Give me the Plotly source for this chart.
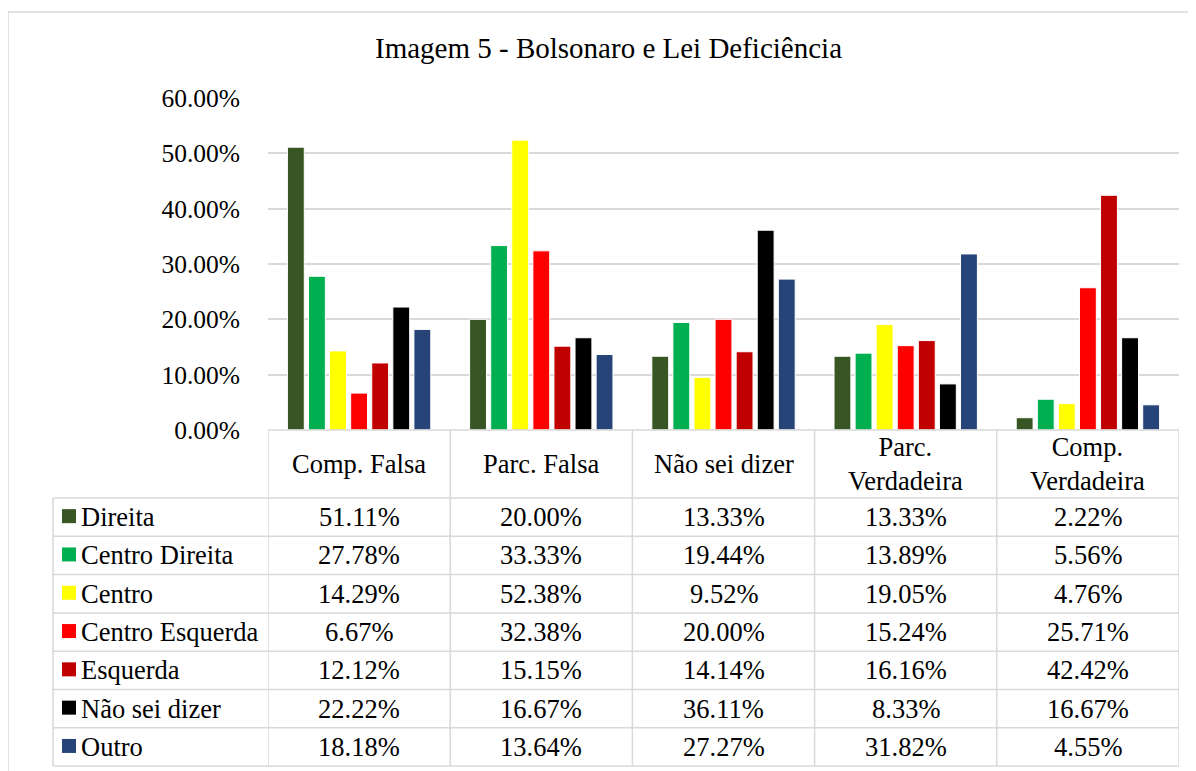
import plotly.graph_objects as go

categories = ["Comp. Falsa", "Parc. Falsa", "Não sei dizer", "Parc. Verdadeira", "Comp. Verdadeira"]
header_labels = ["Comp. Falsa", "Parc. Falsa", "Não sei dizer", "Parc.<br>Verdadeira", "Comp.<br>Verdadeira"]
series_names = ["Direita", "Centro Direita", "Centro", "Centro Esquerda", "Esquerda", "Não sei dizer", "Outro"]
direita = [51.11, 20.00, 13.33, 13.33, 2.22]
centro_direita = [27.78, 33.33, 19.44, 13.89, 5.56]
centro = [14.29, 52.38, 9.52, 19.05, 4.76]
centro_esquerda = [6.67, 32.38, 20.00, 15.24, 25.71]
esquerda = [12.12, 15.15, 14.14, 16.16, 42.42]
nao_sei = [22.22, 16.67, 36.11, 8.33, 16.67]
outro = [18.18, 13.64, 27.27, 31.82, 4.55]
series_values = [direita, centro_direita, centro, centro_esquerda, esquerda, nao_sei, outro]
colors = ["#375623", "#00b050", "#ffff00", "#ff0000", "#c00000", "#000000", "#264478"]
y_ticks = [0, 10, 20, 30, 40, 50, 60]
y_tick_text = [f"{t:.2f}%" for t in y_ticks]

OX, OY = 8, 8  # page body margin
W, H = 1196 - OX, 771 - OY  # figure fits exactly inside the window
FONT = "Liberation Serif, Times New Roman, serif"
GRID = "#d9d9d9"
FS = 26.5


def X(px):
    return (px - OX) / W


def Y(py):
    return 1 - (py - OY) / H


fig = go.Figure()
for name, vals, col in zip(series_names, series_values, colors):
    fig.add_trace(go.Bar(x=categories, y=vals, name=name,
                         marker=dict(color=col, line=dict(color="white", width=1))))

plot_left, plot_right = 268, 1179
plot_top, plot_bottom = 98, 430
header_bottom = 498
row_h = 38.3
table_left = 53

shapes = []
annotations = []

# outer chart border: only top and left edges are visible in the frame
shapes.append(dict(type="line", xref="paper", yref="paper", x0=X(8), x1=1.0, y0=Y(12), y1=Y(12),
                   line=dict(color=GRID, width=1.5), layer="below"))
shapes.append(dict(type="line", xref="paper", yref="paper", x0=X(8), x1=X(8), y0=Y(12), y1=0.0,
                   line=dict(color=GRID, width=1.5), layer="below"))

# table horizontal lines
shapes.append(dict(type="line", xref="x", yref="paper", x0=-0.5, x1=len(categories) - 0.5,
                   y0=Y(plot_bottom), y1=Y(plot_bottom), line=dict(color=GRID, width=1.5)))
for i in range(len(series_names) + 1):
    yy = header_bottom + i * row_h
    shapes.append(dict(type="line", xref="paper", yref="paper", x0=X(table_left), x1=X(plot_right),
                       y0=Y(yy), y1=Y(yy), line=dict(color=GRID, width=1.5)))
table_bottom = header_bottom + len(series_names) * row_h
# vertical lines
shapes.append(dict(type="line", xref="paper", yref="paper", x0=X(table_left), x1=X(table_left),
                   y0=Y(header_bottom), y1=Y(table_bottom), line=dict(color=GRID, width=1.5)))
for k in range(len(categories) + 1):
    xx = k - 0.5
    shapes.append(dict(type="line", xref="x", yref="paper", x0=xx, x1=xx,
                       y0=Y(plot_bottom), y1=Y(table_bottom), line=dict(color=GRID, width=1.5)))

# header texts
for k, lab in enumerate(header_labels):
    annotations.append(dict(xref="x", yref="paper", x=k, y=Y((plot_bottom + header_bottom) / 2),
                            text=lab, showarrow=False, xanchor="center", yanchor="middle",
                            font=dict(family=FONT, size=FS, color="#000000")))

# rows
for i, (name, vals, col) in enumerate(zip(series_names, series_values, colors)):
    yc = header_bottom + (i + 0.5) * row_h
    shapes.append(dict(type="rect", xref="paper", yref="paper", x0=X(62), x1=X(76),
                       y0=Y(yc + 6), y1=Y(yc - 8), fillcolor=col, line=dict(width=0)))
    annotations.append(dict(xref="paper", yref="paper", x=X(79), y=Y(yc), text=name, showarrow=False,
                            xanchor="left", yanchor="middle",
                            font=dict(family=FONT, size=FS, color="#000000")))
    for k, v in enumerate(vals):
        annotations.append(dict(xref="x", yref="paper", x=k, y=Y(yc), text=f"{v:.2f}%", showarrow=False,
                                xanchor="center", yanchor="middle",
                                font=dict(family=FONT, size=FS, color="#000000")))

# title
annotations.append(dict(xref="paper", yref="paper", x=X(608), y=Y(48), text="Imagem 5 - Bolsonaro e Lei Deficiência",
                        showarrow=False, xanchor="center", yanchor="middle",
                        font=dict(family=FONT, size=29, color="#000000")))

fig.update_layout(
    template="none",
    width=W, height=H,
    margin=dict(l=0, r=0, t=0, b=0, pad=0, autoexpand=False),
    paper_bgcolor="white", plot_bgcolor="white",
    barmode="group", bargap=0.19, bargroupgap=0.2,
    showlegend=False,
    xaxis=dict(domain=[X(plot_left), X(plot_right)], range=[-0.5, len(categories) - 0.5],
               showticklabels=False, showgrid=False, zeroline=False, showline=False,
               automargin=False, fixedrange=True),
    yaxis=dict(domain=[Y(plot_bottom), Y(plot_top)], range=[0, 60], tickmode="array",
               tickvals=y_ticks, ticktext=y_tick_text, ticks="",
               showgrid=True, gridcolor=GRID, gridwidth=1.5,
               zeroline=False, showline=False, ticklabelstandoff=27, automargin=False,
               tickfont=dict(family=FONT, size=25.5, color="#000000")),
    shapes=shapes, annotations=annotations,
)

fig.write_html("out.html")
